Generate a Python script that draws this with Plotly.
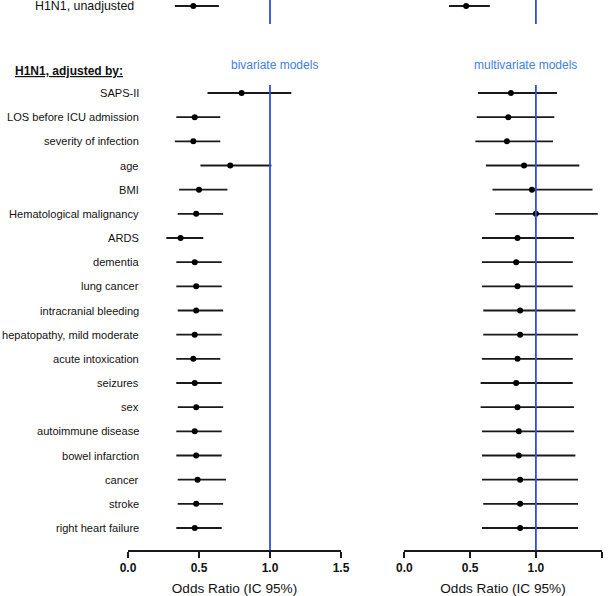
import plotly.graph_objects as go

categories = ["SAPS-II", "LOS before ICU admission", "severity of infection", "age", "BMI",
              "Hematological malignancy", "ARDS", "dementia", "lung cancer", "intracranial bleeding",
              "hepatopathy, mild moderate", "acute intoxication", "seizures", "sex",
              "autoimmune disease", "bowel infarction", "cancer", "stroke", "right heart failure"]

bi_or = [0.80, 0.47, 0.46, 0.72, 0.50, 0.48, 0.37, 0.47, 0.48, 0.48, 0.47, 0.46, 0.47, 0.48, 0.47, 0.48, 0.49, 0.48, 0.47]
bi_lo = [0.56, 0.34, 0.33, 0.51, 0.36, 0.35, 0.27, 0.34, 0.34, 0.35, 0.34, 0.34, 0.34, 0.35, 0.34, 0.34, 0.35, 0.35, 0.34]
bi_hi = [1.15, 0.65, 0.65, 1.01, 0.70, 0.67, 0.53, 0.66, 0.66, 0.67, 0.66, 0.65, 0.66, 0.67, 0.66, 0.66, 0.69, 0.67, 0.66]

mv_or = [0.81, 0.79, 0.78, 0.91, 0.97, 1.00, 0.86, 0.85, 0.86, 0.88, 0.88, 0.86, 0.85, 0.86, 0.87, 0.87, 0.88, 0.88, 0.88]
mv_lo = [0.56, 0.55, 0.54, 0.62, 0.67, 0.69, 0.59, 0.59, 0.59, 0.60, 0.60, 0.59, 0.58, 0.58, 0.59, 0.59, 0.59, 0.60, 0.59]
mv_hi = [1.16, 1.14, 1.13, 1.33, 1.43, 1.47, 1.29, 1.28, 1.28, 1.30, 1.32, 1.28, 1.28, 1.29, 1.29, 1.30, 1.32, 1.32, 1.32]

unadj_label = "H1N1, unadjusted"
unadj_bi = [0.46, 0.33, 0.64]   # OR, lo, hi
unadj_mv = [0.47, 0.34, 0.65]

x_ticks = [0.0, 0.5, 1.0, 1.5]
x_tick_text = ["0.0", "0.5", "1.0", "1.5"]

W, H = 610, 596

def px(v):
    return v / W

y_rows = list(range(len(categories)))
y_unadj = -3.6
# plot area spans page y = 0 .. 550  (rows 24.16 px apart)
y_top = -3.6 - 6 / 24.16
y_bot = 18.91

fig = go.Figure()
ink = "#1a1a1a"

def add_panel(xa, ors, los, his, un):
    xs = ors + [un[0]]
    lo = los + [un[1]]
    hi = his + [un[2]]
    ys = y_rows + [y_unadj]
    fig.add_trace(go.Scatter(
        x=xs, y=ys, mode="markers", xaxis=xa, yaxis="y",
        marker=dict(color="black", size=6),
        error_x=dict(type="data", symmetric=False,
                     array=[h - o for h, o in zip(hi, xs)],
                     arrayminus=[o - l for o, l in zip(xs, lo)],
                     color=ink, thickness=1.8, width=0),
        showlegend=False, cliponaxis=False))

add_panel("x", bi_or, bi_lo, bi_hi, unadj_bi)
add_panel("x2", mv_or, mv_lo, mv_hi, unadj_mv)

blue = "#2f4fe0"
for xr in ["x", "x2"]:
    fig.add_shape(type="line", xref=xr, yref="y", x0=1, x1=1, y0=y_top, y1=-2.86,
                  line=dict(color=blue, width=1.8))
    fig.add_shape(type="line", xref=xr, yref="y", x0=1, x1=1, y0=-0.33, y1=y_bot,
                  line=dict(color=blue, width=1.8))

font = "Liberation Sans, Arial, Helvetica, sans-serif"
ann = []
for c, y in zip(categories, y_rows):
    ann.append(dict(text=c, x=px(141), xref="paper", y=y, yref="y", xanchor="right",
                    yanchor="middle", showarrow=False, font=dict(size=11.1, color="#111")))
ann.append(dict(text=unadj_label, x=px(136), xref="paper", y=y_unadj, yref="y", xanchor="right",
                yanchor="middle", showarrow=False, font=dict(size=12.4, color="#111")))
ann.append(dict(text="<u><b>H1N1, adjusted by:</b></u>", x=px(13), xref="paper", y=-0.91, yref="y",
                xanchor="left", yanchor="middle", showarrow=False, font=dict(size=12, color="#111")))
ann.append(dict(text="bivariate models", x=1.03, xref="x", y=-1.16, yref="y", xanchor="center",
                yanchor="middle", showarrow=False, font=dict(size=12, color="#3f80e0")))
ann.append(dict(text="multivariate models", x=0.92, xref="x2", y=-1.16, yref="y", xanchor="center",
                yanchor="middle", showarrow=False, font=dict(size=12, color="#3f80e0")))

axis_common = dict(range=[0, 1.5], tickvals=x_ticks, ticktext=x_tick_text, showgrid=False,
                   zeroline=False, showline=True, linecolor=ink, linewidth=1.5,
                   ticks="outside", ticklen=6, tickwidth=1.5, tickcolor=ink,
                   ticklabelstandoff=0,
                   tickfont=dict(size=12, color="#111", family=font, weight="bold"),
                   title=dict(text="Odds Ratio (IC 95%)", font=dict(size=13.6, color="#111"), standoff=14),
                   automargin=False, fixedrange=True)

fig.update_layout(
    width=W, height=H,
    margin=dict(l=0, r=0, t=0, b=596 - 550, autoexpand=False),
    paper_bgcolor="white", plot_bgcolor="white",
    font=dict(family=font, color="#111"),
    xaxis=dict(domain=[px(128), px(341)], anchor="y", **axis_common),
    xaxis2=dict(domain=[px(404.3), px(601.7)], anchor="y", **axis_common),
    yaxis=dict(range=[y_bot, y_top], visible=False, fixedrange=True),
    annotations=ann,
    showlegend=False,
)

fig.write_html("out.html", config={"displayModeBar": False},
               post_script="document.body.style.margin='0';document.body.style.overflow='hidden';")
